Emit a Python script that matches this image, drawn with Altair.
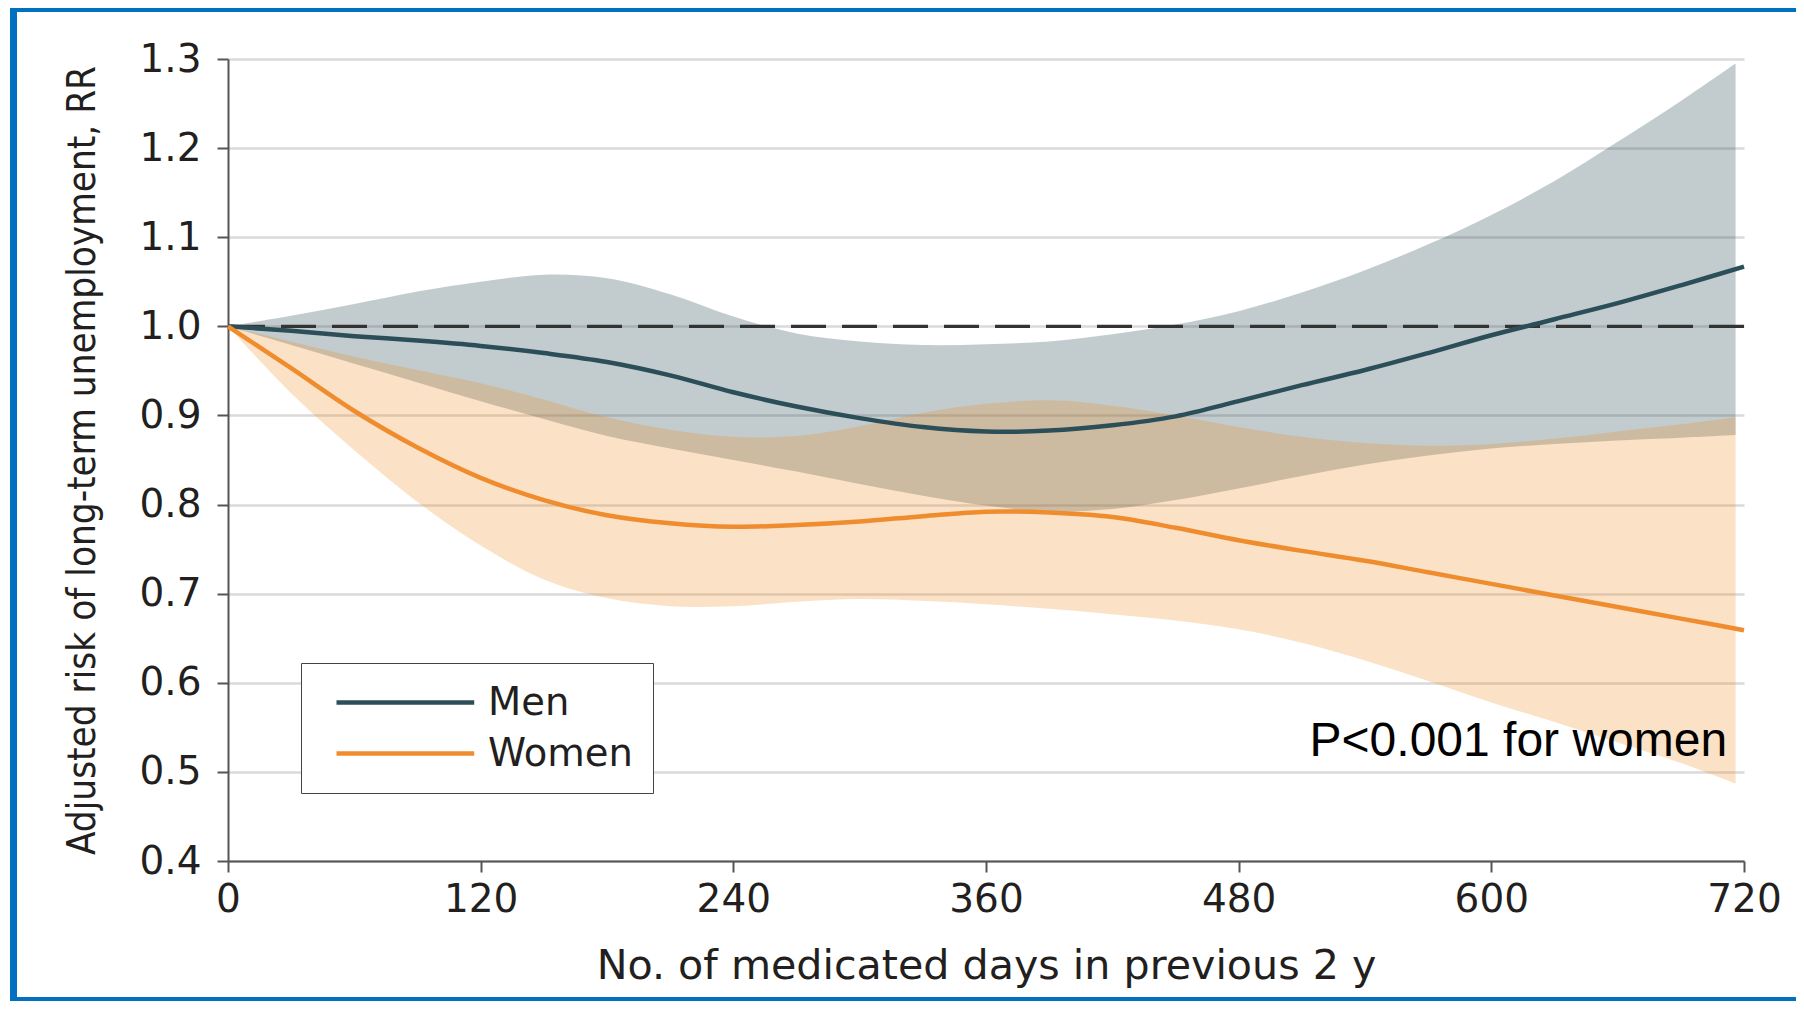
import altair as alt
import pandas as pd

# ---------------- data ----------------
DAYS_LINE = [0, 30, 60, 90, 120, 150, 180, 210, 240, 270, 300, 330, 360,
             390, 420, 450, 480, 510, 540, 570, 600, 630, 660, 690, 720]
MEN_RR = [1.000, 0.995, 0.989, 0.984, 0.978, 0.970, 0.960, 0.945, 0.926,
          0.910, 0.897, 0.887, 0.882, 0.883, 0.889, 0.899, 0.916, 0.934,
          0.951, 0.970, 0.990, 1.008, 1.026, 1.046, 1.067]
WOMEN_RR = [1.000, 0.953, 0.905, 0.864, 0.830, 0.805, 0.788, 0.779, 0.775,
            0.777, 0.781, 0.787, 0.792, 0.791, 0.786, 0.774, 0.760, 0.748,
            0.737, 0.724, 0.711, 0.698, 0.685, 0.672, 0.659]

DAYS_BAND = [0, 30, 60, 90, 120, 150, 180, 210, 240, 270, 300, 330, 360,
             390, 420, 450, 480, 510, 540, 570, 600, 630, 660, 690, 716]
MEN_LO = [1.000, 0.979, 0.958, 0.937, 0.916, 0.896, 0.877, 0.863, 0.850,
          0.837, 0.823, 0.810, 0.799, 0.792, 0.795, 0.805, 0.818, 0.832,
          0.845, 0.855, 0.863, 0.868, 0.872, 0.875, 0.878]
MEN_HI = [1.000, 1.012, 1.025, 1.039, 1.050, 1.058, 1.054, 1.036, 1.011,
          0.992, 0.983, 0.979, 0.980, 0.983, 0.991, 1.002, 1.017, 1.038,
          1.063, 1.092, 1.125, 1.163, 1.207, 1.253, 1.295]
WOMEN_LO = [1.000, 0.925, 0.861, 0.803, 0.754, 0.716, 0.695, 0.686, 0.686,
            0.691, 0.694, 0.692, 0.688, 0.683, 0.677, 0.670, 0.660, 0.645,
            0.625, 0.602, 0.578, 0.556, 0.533, 0.510, 0.487]
WOMEN_HI = [1.000, 0.983, 0.966, 0.951, 0.936, 0.918, 0.898, 0.884, 0.876,
            0.877, 0.888, 0.903, 0.913, 0.917, 0.911, 0.900, 0.887, 0.876,
            0.869, 0.866, 0.868, 0.874, 0.882, 0.890, 0.898]

GROUPS = ["Men", "Women"]
X_TICKS = [0, 120, 240, 360, 480, 600, 720]
Y_TICKS = [0.4, 0.5, 0.6, 0.7, 0.8, 0.9, 1.0, 1.1, 1.2, 1.3]
REF_RR = 1.0
NOTE_TEXT = ["P<0.001 for women"]
NOTE_DAY = [712]
NOTE_RR = [0.518]
X_TITLE = "No. of medicated days in previous 2 y"
Y_TITLE = "Adjusted risk of long-term unemployment, RR"

MEN_COLOR = "#2c4e59"
WOMEN_COLOR = "#ef8c2e"
BLUE = "#0070c0"
TEXT_COLOR = "#231f20"
CURVE = "catmull-rom"

# ---------------- tables ----------------
n = len(DAYS_LINE)
lines_df = pd.DataFrame({
    "day": DAYS_LINE * 2,
    "rr": MEN_RR + WOMEN_RR,
    "group": [GROUPS[0]] * n + [GROUPS[1]] * n,
})
men_band_df = pd.DataFrame({"day": DAYS_BAND, "lo": MEN_LO, "hi": MEN_HI})
women_band_df = pd.DataFrame({"day": DAYS_BAND, "lo": WOMEN_LO, "hi": WOMEN_HI})
note_df = pd.DataFrame({"day": NOTE_DAY, "rr": NOTE_RR, "label": NOTE_TEXT})
one_df = pd.DataFrame({"k": [0]})

x_scale = alt.Scale(domain=[0, 720], nice=False, zero=False)
y_scale = alt.Scale(domain=[0.4, 1.3], nice=False, zero=False)

x_axis = alt.Axis(
    values=X_TICKS, format="d", title=X_TITLE, grid=False,
    labelPadding=8, labelFlush=False, titleX=758, titleY=117,
    titleAlign="center", titleBaseline="alphabetic", titleFontSize=41.2,
)
y_axis = alt.Axis(
    values=Y_TICKS, format=".1f", title=Y_TITLE, grid=True,
    labelPadding=16, labelFlush=False, titleX=-126, titleY=401,
    titleAngle=270, titleAlign="center", titleBaseline="bottom",
    titleFont="DejaVu Sans Condensed, Liberation Sans Narrow, DejaVu Sans",
    titleFontSize=38.3,
)


def xq(field):
    return alt.X(field, type="quantitative", scale=x_scale, axis=x_axis)


def yq(field):
    return alt.Y(field, type="quantitative", scale=y_scale, axis=y_axis)


men_band = alt.Chart(men_band_df).mark_area(
    color=MEN_COLOR, opacity=0.29, interpolate=CURVE
).encode(x=xq("day"), y=yq("lo"), y2="hi:Q")

women_band = alt.Chart(women_band_df).mark_area(
    color="#f08c1e", opacity=0.26, interpolate=CURVE
).encode(x=xq("day"), y=yq("lo"), y2="hi:Q")

ref_rule = alt.Chart(one_df).mark_rule(
    color="#333333", strokeWidth=3.3, strokeDash=[35, 16]
).encode(y=alt.datum(REF_RR))

lines = alt.Chart(lines_df).mark_line(
    strokeWidth=4.5, interpolate=CURVE
).encode(
    x=xq("day"),
    y=yq("rr"),
    color=alt.Color(
        "group:N",
        scale=alt.Scale(domain=GROUPS, range=[MEN_COLOR, WOMEN_COLOR]),
        legend=alt.Legend(
            title=None, orient="none", legendX=73, legendY=604,
            symbolType="M-1,0H7.1", symbolSize=1156, symbolStrokeWidth=4.5,
            symbolOffset=13, labelOffset=115,
            labelFont="DejaVu Sans", labelFontSize=38.5, labelColor=TEXT_COLOR,
            labelLimit=400, strokeColor="#444444", fillColor="#ffffff",
            padding=20, rowPadding=12,
        ),
    ),
)

note = alt.Chart(note_df).mark_text(
    align="right", baseline="alphabetic", font="Liberation Sans",
    fontSize=48, color="#000000"
).encode(x=xq("day"), y=yq("rr"), text="label:N")

# decorative blue frame around the figure (pixel positions of the page frame)
frame_left = alt.Chart(one_df).mark_rule(color=BLUE, strokeWidth=7).encode(
    x=alt.value(-214.5), y=alt.value(-51), y2=alt.value(942))
frame_top = alt.Chart(one_df).mark_rule(color=BLUE, strokeWidth=4).encode(
    x=alt.value(-218), x2=alt.value(1568), y=alt.value(-49))
frame_bottom = alt.Chart(one_df).mark_rule(color=BLUE, strokeWidth=4).encode(
    x=alt.value(-218), x2=alt.value(1568), y=alt.value(940))

chart = alt.layer(
    men_band, women_band, ref_rule, lines, note,
    frame_left, frame_top, frame_bottom,
).properties(
    width=1516, height=802,
    padding={"left": 220, "top": 51, "right": 52, "bottom": 140},
    autosize=alt.AutoSizeParams(type="none"),
    background="#ffffff",
).configure_axis(
    labelFont="DejaVu Sans", labelFontSize=39, labelColor=TEXT_COLOR,
    titleFont="DejaVu Sans", titleColor=TEXT_COLOR, titleFontWeight="normal",
    domainColor="#555555", domainWidth=2, tickColor="#555555", tickWidth=2,
    tickSize=11, gridColor="#dadada", gridWidth=2.5,
).configure_view(stroke=None)

chart.save("out.html", embed_options={"renderer": "svg", "actions": False})
